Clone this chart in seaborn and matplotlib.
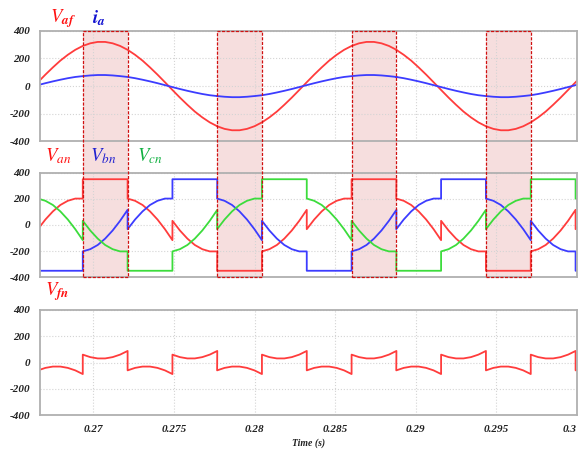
import numpy as np
import pandas as pd
import matplotlib
matplotlib.use('Agg')
import matplotlib.pyplot as plt
import matplotlib.transforms as mtransforms
from matplotlib.patches import Rectangle
import seaborn as sns


# switching instants (s); every segment is 1/6 of the 60 Hz period
switch_times = [0.26657, 0.26935, 0.27213, 0.27491, 0.27768, 0.28046, 0.28324,
                0.28602, 0.28879, 0.29157, 0.29435, 0.29713, 0.29991]
seg_offsets = [0.0, 0.000463, 0.000926, 0.001389, 0.001852, 0.002315, 0.00278]

# shaded windows (phase a clamped to the dc rail)
window_starts = [0.26935, 0.27768, 0.28602, 0.29435]
window_ends = [0.27213, 0.28046, 0.28879, 0.29713]

xticks = [0.27, 0.275, 0.28, 0.285, 0.29, 0.295, 0.3]
xtick_labels = ['0.27', '0.275', '0.28', '0.285', '0.29', '0.295', '0.3']
yticks = [-400, -200, 0, 200, 400]

# samples per segment (V / A)
v_af = [[28, 83, 135, 184, 226, 262, 290],
        [290, 309, 319, 319, 309, 290, 262],
        [262, 226, 184, 135, 83, 28, -28],
        [-28, -83, -135, -184, -226, -262, -290],
        [-290, -309, -319, -319, -309, -290, -262],
        [-262, -226, -184, -135, -83, -28, 28],
        [28, 83, 135, 184, 226, 262, 290],
        [290, 309, 319, 319, 309, 290, 262],
        [262, 226, 184, 135, 83, 28, -28],
        [-28, -83, -135, -184, -226, -262, -290],
        [-290, -309, -319, -319, -309, -290, -262],
        [-262, -226, -184, -135, -83, -28, 28],
        [28, 83, 135, 184, 226, 262, 290]]

i_a = [[7, 21, 34, 46, 57, 66, 72],
       [72, 77, 80, 80, 77, 72, 66],
       [66, 57, 46, 34, 21, 7, -7],
       [-7, -21, -34, -46, -57, -66, -72],
       [-72, -77, -80, -80, -77, -72, -66],
       [-66, -57, -46, -34, -21, -7, 7],
       [7, 21, 34, 46, 57, 66, 72],
       [72, 77, 80, 80, 77, 72, 66],
       [66, 57, 46, 34, 21, 7, -7],
       [-7, -21, -34, -46, -57, -66, -72],
       [-72, -77, -80, -80, -77, -72, -66],
       [-66, -57, -46, -34, -21, -7, 7],
       [7, 21, 34, 46, 57, 66, 72]]

v_an = [[-32, 42, 104, 153, 185, 202, 202],
        [350, 350, 350, 350, 350, 350, 350],
        [202, 185, 153, 104, 42, -32, -116],
        [32, -42, -104, -153, -185, -202, -202],
        [-350, -350, -350, -350, -350, -350, -350],
        [-202, -185, -153, -104, -42, 32, 116],
        [-32, 42, 104, 153, 185, 202, 202],
        [350, 350, 350, 350, 350, 350, 350],
        [202, 185, 153, 104, 42, -32, -116],
        [32, -42, -104, -153, -185, -202, -202],
        [-350, -350, -350, -350, -350, -350, -350],
        [-202, -185, -153, -104, -42, 32, 116],
        [-32, 42, 104, 153, 185, 202, 202]]

v_bn = [[-350, -350, -350, -350, -350, -350, -350],
        [-202, -185, -153, -104, -42, 32, 116],
        [-32, 42, 104, 153, 185, 202, 202],
        [350, 350, 350, 350, 350, 350, 350],
        [202, 185, 153, 104, 42, -32, -116],
        [32, -42, -104, -153, -185, -202, -202],
        [-350, -350, -350, -350, -350, -350, -350],
        [-202, -185, -153, -104, -42, 32, 116],
        [-32, 42, 104, 153, 185, 202, 202],
        [350, 350, 350, 350, 350, 350, 350],
        [202, 185, 153, 104, 42, -32, -116],
        [32, -42, -104, -153, -185, -202, -202],
        [-350, -350, -350, -350, -350, -350, -350]]

v_cn = [[202, 185, 153, 104, 42, -32, -116],
        [32, -42, -104, -153, -185, -202, -202],
        [-350, -350, -350, -350, -350, -350, -350],
        [-202, -185, -153, -104, -42, 32, 116],
        [-32, 42, 104, 153, 185, 202, 202],
        [350, 350, 350, 350, 350, 350, 350],
        [202, 185, 153, 104, 42, -32, -116],
        [32, -42, -104, -153, -185, -202, -202],
        [-350, -350, -350, -350, -350, -350, -350],
        [-202, -185, -153, -104, -42, 32, 116],
        [-32, 42, 104, 153, 185, 202, 202],
        [350, 350, 350, 350, 350, 350, 350],
        [202, 185, 153, 104, 42, -32, -116]]

v_fn = [[-60, -41, -31, -31, -41, -60, -88],
        [60, 41, 31, 31, 41, 60, 88],
        [-60, -41, -31, -31, -41, -60, -88],
        [60, 41, 31, 31, 41, 60, 88],
        [-60, -41, -31, -31, -41, -60, -88],
        [60, 41, 31, 31, 41, 60, 88],
        [-60, -41, -31, -31, -41, -60, -88],
        [60, 41, 31, 31, 41, 60, 88],
        [-60, -41, -31, -31, -41, -60, -88],
        [60, 41, 31, 31, 41, 60, 88],
        [-60, -41, -31, -31, -41, -60, -88],
        [60, 41, 31, 31, 41, 60, 88],
        [-60, -41, -31, -31, -41, -60, -88]]

RED = '#ff3c3c'
BLUE = '#3c3cff'
GREEN = '#3cdc3c'

sns.set_theme(style='white')
plt.rcParams['font.family'] = ['Liberation Serif', 'DejaVu Serif']
plt.rcParams['mathtext.fontset'] = 'stix'
plt.rcParams['axes.unicode_minus'] = False

t = (np.array(switch_times)[:, None] + np.array(seg_offsets)[None, :]).ravel()


def long_frame(traces):
    parts = []
    for name, values in traces.items():
        parts.append(pd.DataFrame({'time': t, 'value': np.ravel(values), 'trace': name}))
    return pd.concat(parts, ignore_index=True)


def style_axis(ax, show_x):
    ax.set_facecolor('none')
    ax.set_xlim(0.26668, 0.3)
    ax.set_ylim(-400, 400)
    ax.set_yticks(yticks)
    ax.set_xticks(xticks)
    ax.grid(True, color='#d4d4d4', linestyle=':', linewidth=0.8)
    for sp in ax.spines.values():
        sp.set_color('#b0b0b0')
        sp.set_linewidth(1.3)
    ax.tick_params(length=0, pad=7, labelsize=8, labelcolor='#222222')
    for lab in ax.get_yticklabels():
        lab.set_fontstyle('italic')
        lab.set_fontweight('bold')
    ax.set_ylabel('')
    if show_x:
        ax.set_xticklabels(xtick_labels)
        for lab in ax.get_xticklabels():
            lab.set_fontstyle('italic')
            lab.set_fontweight('bold')
        ax.get_xticklabels()[-1].set_horizontalalignment('right')
        ax.set_xlabel('Time (s)', fontsize=7, fontstyle='italic', fontweight='bold',
                      color='#222222', labelpad=3)
    else:
        ax.set_xticklabels([])
        ax.set_xlabel('')


fig = plt.figure(figsize=(5.79, 4.49), dpi=100)
left, width = 0.0686, 0.928
ax_top = fig.add_axes([left, 0.6849, width, 0.2467])
ax_mid = fig.add_axes([left, 0.3824, width, 0.2330])
ax_bot = fig.add_axes([left, 0.0757, width, 0.2339])

top_df = long_frame({'Vaf': v_af, 'ia': i_a})
sns.lineplot(data=top_df, x='time', y='value', hue='trace', palette={'Vaf': RED, 'ia': BLUE},
             estimator=None, sort=False, legend=False, linewidth=1.3, ax=ax_top)

mid_df = long_frame({'Van': v_an, 'Vbn': v_bn, 'Vcn': v_cn})
sns.lineplot(data=mid_df, x='time', y='value', hue='trace',
             palette={'Van': RED, 'Vbn': BLUE, 'Vcn': GREEN},
             estimator=None, sort=False, legend=False, linewidth=1.3, ax=ax_mid)

bot_df = long_frame({'Vfn': v_fn})
sns.lineplot(data=bot_df, x='time', y='value', color=RED,
             estimator=None, sort=False, legend=False, linewidth=1.3, ax=ax_bot)

style_axis(ax_top, False)
style_axis(ax_mid, False)
style_axis(ax_bot, True)

# shaded windows spanning the top two panels
trans = mtransforms.blended_transform_factory(ax_mid.transData, fig.transFigure)
y0 = 0.3824
y1 = 0.6849 + 0.2467
for s, e in zip(window_starts, window_ends):
    fig.add_artist(Rectangle((s, y0), e - s, y1 - y0, transform=trans,
                             facecolor='#f6dede', edgecolor='none', zorder=-1))
    fig.add_artist(Rectangle((s, y0), e - s, y1 - y0, transform=trans,
                             facecolor='none', edgecolor='#d01010', linewidth=0.9,
                             linestyle=(0, (2.5, 1.2)), zorder=5))

W, H = 579, 449


def label(x, y, s, color):
    fig.text(x / W, 1 - y / H, s, color=color, fontsize=13.5, va='baseline', ha='left')


label(50, 22, r'$V_{\mathbfit{af}}$', '#ff1010')
label(92, 23, r'$\mathbfit{i}_{\mathbfit{a}}$', '#1010d0')
label(45, 161, r'$V_{an}$', '#ff1010')
label(90, 161, r'$V_{bn}$', '#2020d0')
label(137, 161, r'$V_{cn}$', '#10b040')
label(45, 295, r'$V_{\mathbfit{fn}}$', '#ff1010')

plt.savefig('out.png', dpi=100, facecolor='white')
